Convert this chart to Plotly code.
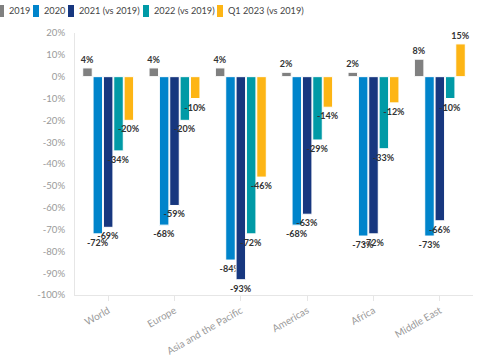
import plotly.graph_objects as go

regions = ["World", "Europe", "Asia and the Pacific", "Americas", "Africa", "Middle East"]
series_names = ["2019", "2020", "2021 (vs 2019)", "2022 (vs 2019)", "Q1 2023 (vs 2019)"]
v2019 = [4, 4, 4, 2, 2, 8]
v2020 = [-72, -68, -84, -68, -73, -73]
v2021 = [-69, -59, -93, -63, -72, -66]
v2022 = [-34, -20, -72, -29, -33, -10]
vq2023 = [-20, -10, -46, -14, -12, 15]
y_ticks = list(range(-100, 30, 10))

colors = ["#808080", "#0084CB", "#17377F", "#009AA6", "#FDB515"]
all_values = [v2019, v2020, v2021, v2022, vq2023]

FONT = "Lato"
fig = go.Figure()
for name, vals, col in zip(series_names, all_values, colors):
    fig.add_trace(go.Bar(
        x=regions, y=vals, name=name,
        marker=dict(color=col, line=dict(color="white", width=1)),
        text=[f"{v}%" for v in vals], textposition="outside",
        textfont=dict(family=FONT, size=9, color="#333333", weight="bold"),
        cliponaxis=False, constraintext="none", showlegend=False,
    ))

# compact legend drawn as shapes + text
legend_x = [-2, 33, 68, 143, 217]
for nm, col, lx in zip(series_names, colors, legend_x):
    fig.add_shape(type="rect", xref="paper", yref="paper",
                  x0=(lx - 75) / 398, x1=(lx + 6 - 75) / 398,
                  y0=(295 - 17) / 262, y1=(295 - 5) / 262,
                  fillcolor=col, line=dict(width=0), layer="above")
    fig.add_annotation(text=nm, xref="paper", yref="paper",
                       x=(lx + 9 - 75) / 398, y=(295 - 11) / 262,
                       xanchor="left", yanchor="middle", showarrow=False,
                       font=dict(family=FONT, size=9.2, color="#444444"))

fig.update_layout(
    width=485, height=360,
    margin=dict(l=75, r=12, t=33, b=65, autoexpand=False),
    plot_bgcolor="white", paper_bgcolor="white",
    barmode="group", bargap=0.22, bargroupgap=0.08,
    font=dict(family=FONT),
    uniformtext=dict(mode=False),
)
fig.update_yaxes(range=[-100, 20], tickvals=y_ticks, ticktext=[f"{t}%" for t in y_ticks],
                 showgrid=False, zeroline=False, showline=True, linecolor="#e6e6e6",
                 ticks="", ticklabelstandoff=7,
                 tickfont=dict(family=FONT, size=9.6, color="#9a9a9a"))
fig.update_xaxes(showgrid=False, showline=True, linecolor="#e6e6e6",
                 ticks="outside", ticklen=5, tickcolor="#e6e6e6",
                 tickangle=-30, tickfont=dict(family=FONT, size=10, color="#9a9a9a"))

fig.write_html("out.html", config={"displayModeBar": False},
               post_script="document.body.style.margin='0';")
